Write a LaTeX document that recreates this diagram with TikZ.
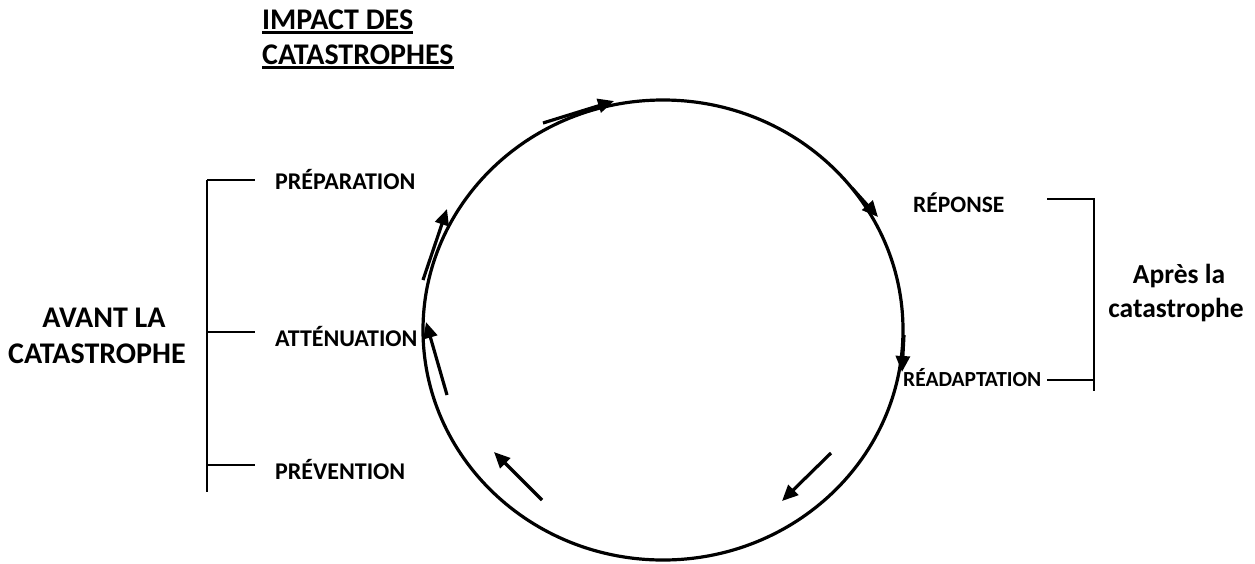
\documentclass[tikz,border=0pt]{standalone}
\usepackage{fontspec}
\setmainfont{Carlito}
\usetikzlibrary{arrows.meta}
\begin{document}
\begin{tikzpicture}[x=1pt,y=-1pt,
  lbl/.style={inner sep=0pt, anchor=base west, font=\bfseries\fontsize{24}{28}\selectfont},
  biglbl/.style={inner sep=0pt, anchor=base, font=\bfseries\fontsize{30}{34}\selectfont},
  grplbl/.style={inner sep=0pt, anchor=base, font=\bfseries\fontsize{27.5}{32}\selectfont},
  cyc/.style={line width=3.2pt},
  brk/.style={line width=2pt},
  arr/.style={line width=3.2pt, -{Triangle[length=16pt,width=14pt]}}]
\useasboundingbox (0,0) rectangle (1255,563);
% title
\node[biglbl, anchor=base west] (t1) at (262,29) {IMPACT DES};
\node[biglbl, anchor=base west] (t2) at (262,64) {CATASTROPHES};
\draw[line width=2.2pt] ([yshift=-3.5pt]t1.base west) -- ([yshift=-3.5pt]t1.base east);
\draw[line width=2.2pt] ([yshift=-3.5pt]t2.base west) -- ([yshift=-3.5pt]t2.base east);
% cycle
\draw[cyc] (663,330) ellipse [x radius=240pt, y radius=230pt];
% phase labels
\node[lbl] (prep) at (275,189) {PRÉPARATION};
\node[lbl] (att) at (275,346) {ATTÉNUATION};
\node[lbl] (prev) at (275,479) {PRÉVENTION};
\node[lbl, font=\bfseries\fontsize{23.5}{28}\selectfont] (rep) at (913,212) {RÉPONSE};
\node[lbl, font=\bfseries\fontsize{21.5}{26}\selectfont] (read) at (903,386) {RÉADAPTATION};
% group labels
\node[biglbl] (av1) at (104,327) {AVANT LA};
\node[biglbl] (av2) at (97,363) {CATASTROPHE};
\node[grplbl] (ap1) at (1179,283) {Après la};
\node[grplbl] (ap2) at (1176,317) {catastrophe};
% left bracket
\coordinate (lt) at (207,180);
\coordinate (lb) at (207,492);
\draw[brk] (lt) -- (lb);
\draw[brk] (lt) -- (255,180);
\draw[brk] (207,332) -- (255,332);
\draw[brk] (207,465) -- (255,465);
% right bracket
\coordinate (rt) at (1094,199);
\coordinate (rb) at (1094,391);
\draw[brk] (1047,199) -- (rt) -- (rb);
\draw[brk] (1047,380) -- (1094,380);
% arrows
\coordinate (a1s) at (543,123); \coordinate (a1e) at (614,101);
\coordinate (a2s) at (852,188); \coordinate (a2e) at (878,217);
\coordinate (a3s) at (904,335); \coordinate (a3e) at (902,372);
\coordinate (a4s) at (831,453); \coordinate (a4e) at (782,501);
\coordinate (a5s) at (542,500); \coordinate (a5e) at (494,452);
\coordinate (a6s) at (447,395); \coordinate (a6e) at (426,322);
\coordinate (a7s) at (423,280); \coordinate (a7e) at (447,209);
\draw[arr] (a1s) -- (a1e);
\draw[arr] (a2s) -- (a2e);
\draw[arr] (a3s) -- (a3e);
\draw[arr] (a4s) -- (a4e);
\draw[arr] (a5s) -- (a5e);
\draw[arr] (a6s) -- (a6e);
\draw[arr] (a7s) -- (a7e);
\end{tikzpicture}
\end{document}
